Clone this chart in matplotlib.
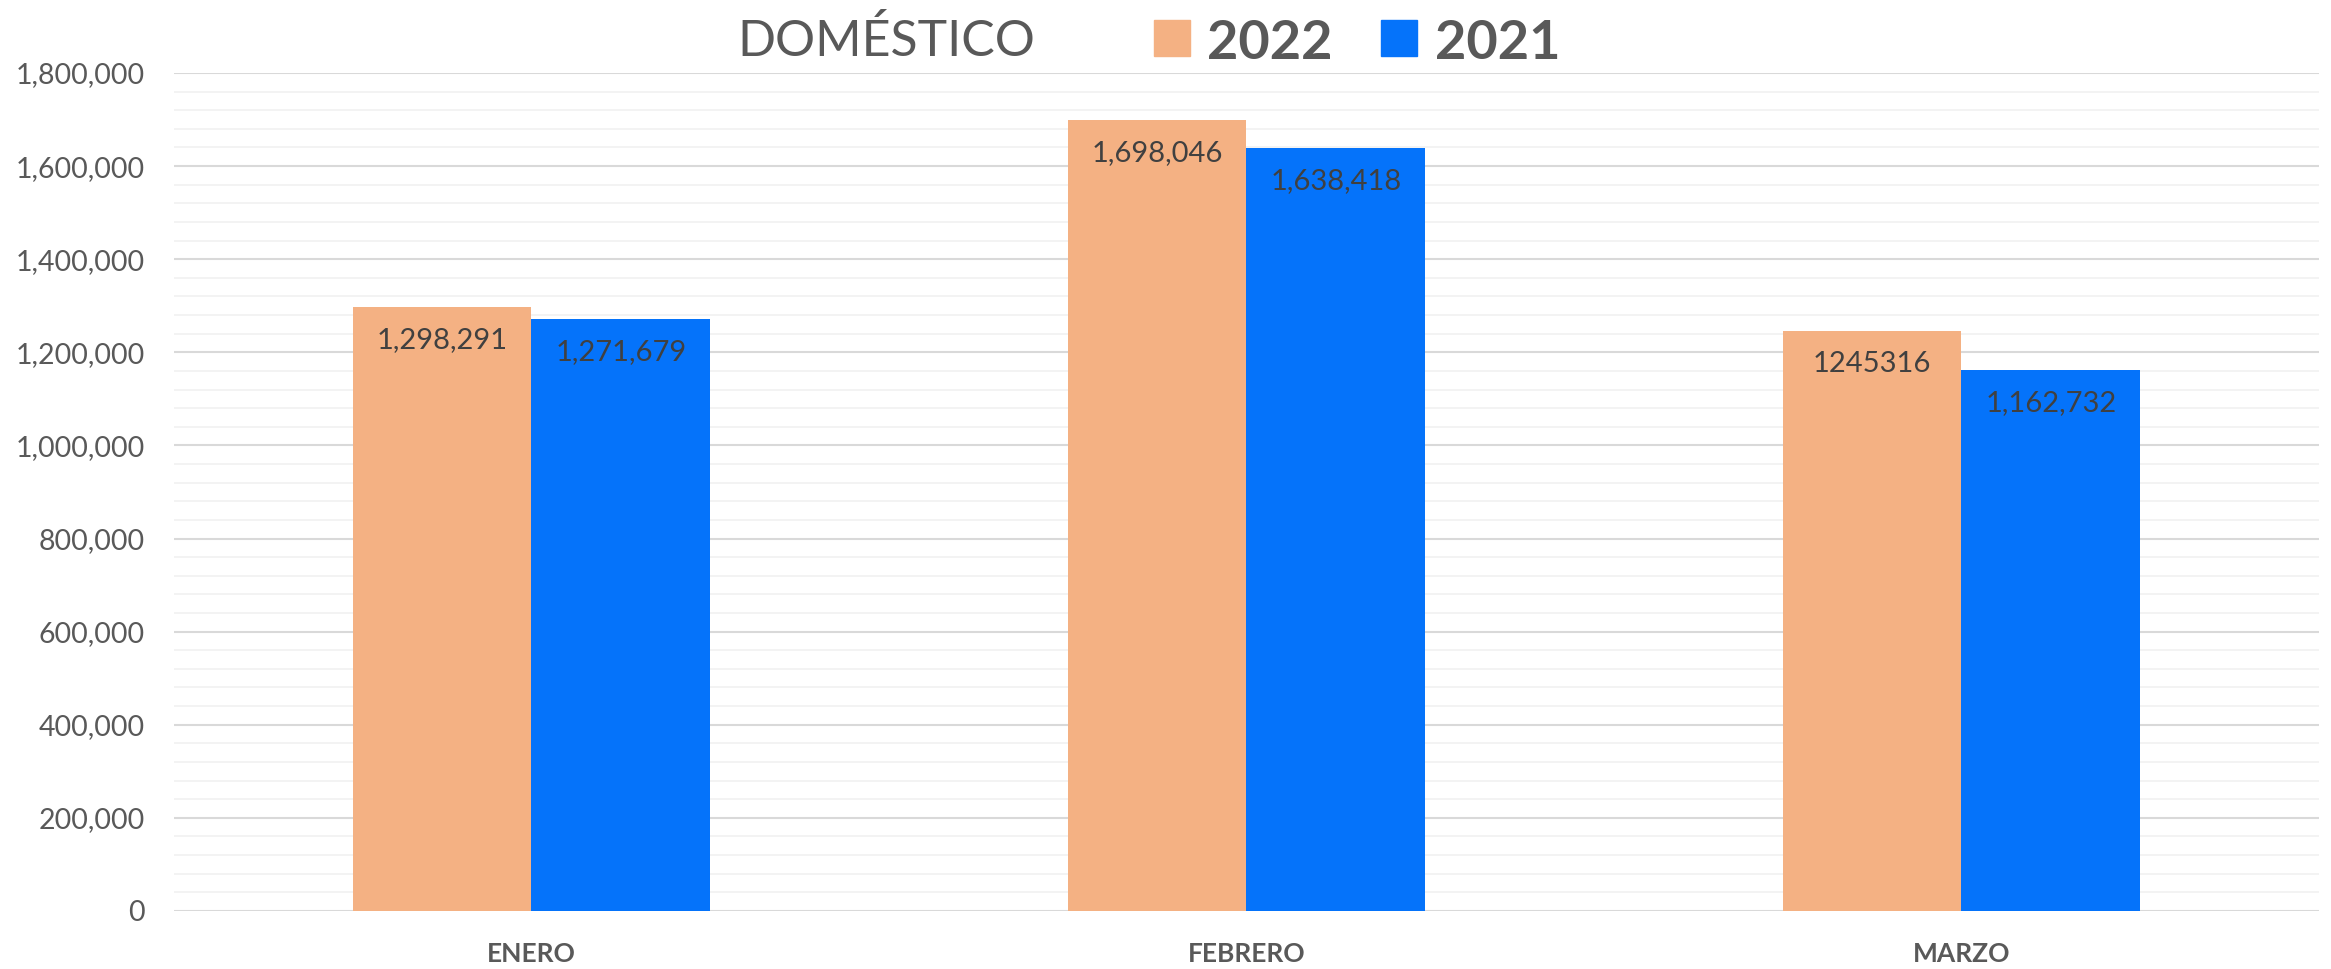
import matplotlib
matplotlib.use("Agg")
import matplotlib.pyplot as plt
from matplotlib.patches import Rectangle
from matplotlib.ticker import MultipleLocator, FuncFormatter
import numpy as np

categories = ["ENERO", "FEBRERO", "MARZO"]
values_2022 = [1298291, 1698046, 1245316]
values_2021 = [1271679, 1638418, 1162732]
labels_2022 = ["1,298,291", "1,698,046", "1245316"]
labels_2021 = ["1,271,679", "1,638,418", "1,162,732"]
series_names = ["2022", "2021"]
title = "DOMÉSTICO"

c22 = "#F4B183"
c21 = "#0573FA"
gray = "#595959"
dark = "#404040"
FONT = ["Lato", "DejaVu Sans"]
plt.rcParams["font.family"] = FONT

fig = plt.figure(figsize=(23.31, 9.69), dpi=100)
ax = fig.add_axes([0.0746, 0.0599, 0.9202, 0.8648])

x = np.arange(len(categories))
w = 0.25
b1 = ax.bar(x - w / 2, values_2022, w, color=c22, zorder=3)
b2 = ax.bar(x + w / 2, values_2021, w, color=c21, zorder=3)

for bars, labs in ((b1, labels_2022), (b2, labels_2021)):
    for r, lab in zip(bars, labs):
        ax.annotate(lab, (r.get_x() + r.get_width() / 2, r.get_height()),
                    xytext=(0, -23.8), textcoords="offset points",
                    ha="center", va="center", fontsize=21, color=dark, zorder=4)

ax.set_xlim(-0.5, len(categories) - 0.5)
ax.set_ylim(0, 1800000)
ax.yaxis.set_major_locator(MultipleLocator(200000))
ax.yaxis.set_minor_locator(MultipleLocator(40000))
ax.yaxis.set_major_formatter(FuncFormatter(lambda v, p: f"{int(v):,}"))
ax.grid(axis="y", which="major", color="#D9D9D9", lw=1.5, zorder=1)
ax.grid(axis="y", which="minor", color="#F2F2F2", lw=1.3, zorder=0)
ax.set_xticks(x)
ax.set_xticklabels(categories, fontsize=19, fontweight="bold", color=gray)
ax.tick_params(axis="y", which="both", length=0, labelsize=20.5, labelcolor=gray, pad=21)
ax.tick_params(axis="x", length=0, pad=22)
for s in ax.spines.values():
    s.set_visible(False)

fig.text(0.3801, 0.942, title, ha="center", va="baseline", fontsize=36,
         fontweight="normal", color=gray)
sq_w, sq_h = 36 / 2331, 36 / 969
for sx, tx, col, name in ((0.4951, 0.5178, c22, series_names[0]),
                          (0.5924, 0.6156, c21, series_names[1])):
    fig.patches.append(Rectangle((sx, 0.9422), sq_w, sq_h, transform=fig.transFigure,
                                 color=col, figure=fig))
    fig.text(tx, 0.939, name, ha="left", va="baseline", fontsize=39,
             fontweight="bold", color=gray)

fig.savefig("out.png", dpi=100, facecolor="white")
